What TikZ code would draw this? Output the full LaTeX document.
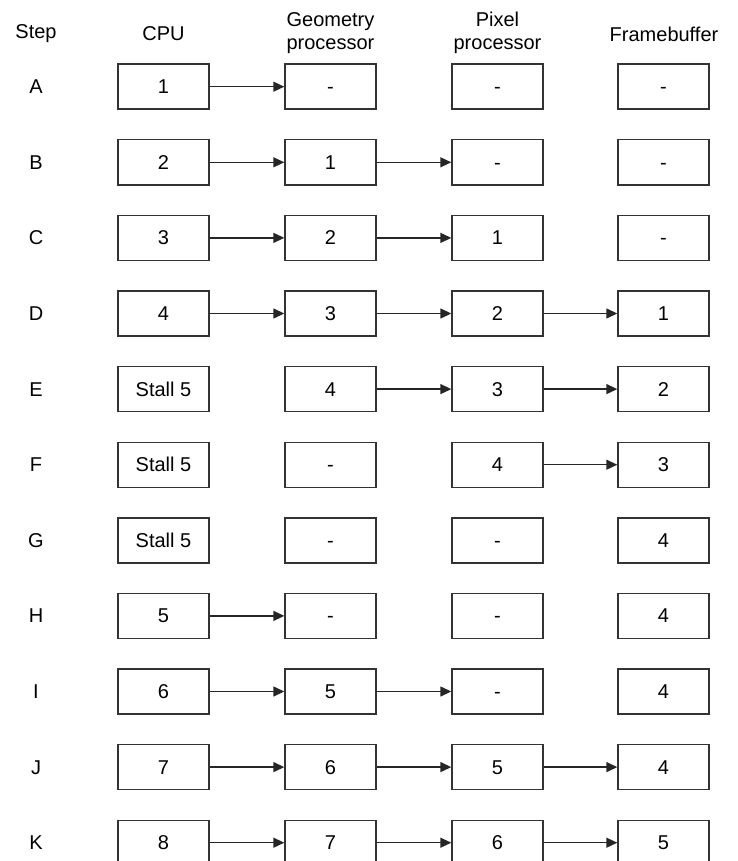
\documentclass[tikz,border=0pt]{standalone}
\usepackage{fontspec}
\setmainfont{Liberation Sans}
\usetikzlibrary{arrows.meta}
\tikzset{
  cell/.style={draw=black!80, line width=1.4pt, minimum width=91pt, minimum height=45pt, inner sep=0pt, text height=14pt, text depth=0pt, font=\fontsize{20}{23}\selectfont},
  lbl/.style={inner sep=0pt, align=center, font=\fontsize{20}{23}\selectfont},
  rowlbl/.style={inner sep=0pt, text height=14pt, text depth=0pt, font=\fontsize{20}{23}\selectfont},
  flow/.style={draw=black!85, line width=1.4pt, -{Triangle[length=11pt,width=10pt]}}
}
\begin{document}
\begin{tikzpicture}[x=1pt,y=-1pt]
\useasboundingbox (0,0) rectangle (737,861);
% headers
\node[lbl] (hstep) at (36,34) {Step};
\node[lbl] (hcpu) at (163.5,34) {CPU};
\node[lbl] (hgeo) at (330.5,33) {Geometry\\processor};
\node[lbl] (hpix) at (497.5,33) {Pixel\\processor};
\node[lbl] (hfb) at (664,34) {Framebuffer};
% rows
\foreach \r/\lab/\a/\b/\c/\d [count=\i from 0] in {
  A/A/1/-/-/-,
  B/B/2/1/-/-,
  C/C/3/2/1/-,
  D/D/4/3/2/1,
  E/E/Stall 5/4/3/2,
  F/F/Stall 5/-/4/3,
  G/G/Stall 5/-/-/4,
  H/H/5/-/-/4,
  I/I/6/5/-/4,
  J/J/7/6/5/4,
  K/K/8/7/6/5}{
  \pgfmathsetmacro{\yy}{86.7+75.6*\i}
  \node[rowlbl] (s\r) at (36,\yy) {\lab};
  \node[cell] (\r0) at (163.5,\yy) {\a};
  \node[cell] (\r1) at (330.5,\yy) {\b};
  \node[cell] (\r2) at (497.5,\yy) {\c};
  \node[cell] (\r3) at (663.5,\yy) {\d};
}
% connectors
\foreach \r/\p/\q in {A/0/1, B/0/1, B/1/2, C/0/1, C/1/2, D/0/1, D/1/2, D/2/3,
  E/1/2, E/2/3, F/2/3, H/0/1, I/0/1, I/1/2, J/0/1, J/1/2, J/2/3, K/0/1, K/1/2, K/2/3}{
  \draw[flow] (\r\p.east) -- (\r\q.west);
}
\end{tikzpicture}
\end{document}
